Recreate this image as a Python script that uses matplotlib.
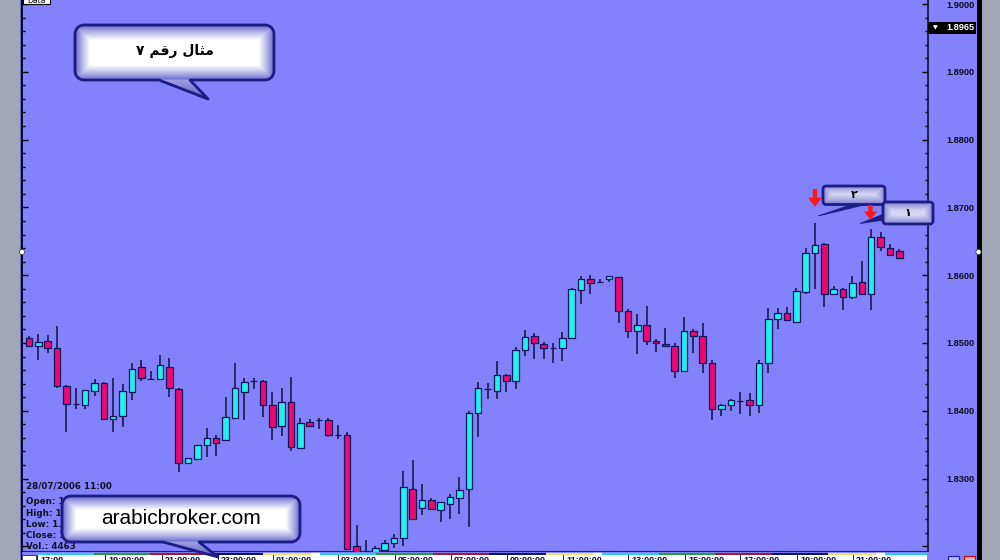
import numpy as np
import matplotlib
matplotlib.use("Agg")
import matplotlib.pyplot as plt
from matplotlib.patches import Rectangle, Polygon, Circle
from matplotlib.ticker import MultipleLocator, FuncFormatter

# ---------------- data (hourly GBP/USD-like candles) ----------------
opens = [1.8508, 1.8496, 1.8503, 1.8493, 1.8437, 1.8410, 1.8408, 1.8429, 1.8441, 1.8388,
         1.8393, 1.8428, 1.8464, 1.8447, 1.8447, 1.8465, 1.8432, 1.8323, 1.8329, 1.8349,
         1.8360, 1.8357, 1.8390, 1.8428, 1.8444, 1.8444, 1.8408, 1.8377, 1.8413, 1.8345,
         1.8383, 1.8387, 1.8386, 1.8364, 1.8364, 1.8201, 1.8193, 1.8191, 1.8195, 1.8205,
         1.8212, 1.8284, 1.8256, 1.8269, 1.8254, 1.8262, 1.8271, 1.8284, 1.8397, 1.8432,
         1.8429, 1.8453, 1.8444, 1.8489, 1.8510, 1.8499, 1.8492, 1.8492, 1.8507, 1.8578,
         1.8594, 1.8590, 1.8595, 1.8597, 1.8547, 1.8518, 1.8526, 1.8503, 1.8499, 1.8496,
         1.8459, 1.8517, 1.8511, 1.8471, 1.8402, 1.8408, 1.8415, 1.8416, 1.8408, 1.8470,
         1.8535, 1.8544, 1.8531, 1.8575, 1.8633, 1.8646, 1.8573, 1.8580, 1.8568, 1.8590,
         1.8573, 1.8656, 1.8640, 1.8635]
highs = [1.8511, 1.8513, 1.8512, 1.8525, 1.8438, 1.8434, 1.8431, 1.8447, 1.8442, 1.8449,
         1.8439, 1.8471, 1.8475, 1.8459, 1.8482, 1.8478, 1.8433, 1.8330, 1.8350, 1.8374,
         1.8364, 1.8420, 1.8471, 1.8448, 1.8449, 1.8445, 1.8427, 1.8433, 1.8450, 1.8390,
         1.8388, 1.8389, 1.8389, 1.8379, 1.8368, 1.8232, 1.8210, 1.8201, 1.8210, 1.8218,
         1.8311, 1.8328, 1.8292, 1.8271, 1.8265, 1.8278, 1.8303, 1.8399, 1.8443, 1.8441,
         1.8473, 1.8455, 1.8494, 1.8519, 1.8515, 1.8501, 1.8500, 1.8516, 1.8581, 1.8599,
         1.8600, 1.8594, 1.8599, 1.8598, 1.8550, 1.8543, 1.8555, 1.8506, 1.8522, 1.8500,
         1.8539, 1.8520, 1.8529, 1.8475, 1.8410, 1.8418, 1.8428, 1.8426, 1.8475, 1.8551,
         1.8551, 1.8553, 1.8581, 1.8640, 1.8677, 1.8647, 1.8584, 1.8581, 1.8599, 1.8621,
         1.8668, 1.8663, 1.8646, 1.8638]
lows = [1.8495, 1.8475, 1.8485, 1.8433, 1.8369, 1.8402, 1.8402, 1.8422, 1.8387, 1.8369,
        1.8376, 1.8416, 1.8444, 1.8445, 1.8446, 1.8420, 1.8310, 1.8321, 1.8327, 1.8332,
        1.8333, 1.8356, 1.8388, 1.8387, 1.8432, 1.8391, 1.8357, 1.8363, 1.8341, 1.8344,
        1.8377, 1.8373, 1.8362, 1.8358, 1.8195, 1.8190, 1.8190, 1.8190, 1.8190, 1.8197,
        1.8200, 1.8240, 1.8246, 1.8253, 1.8236, 1.8241, 1.8248, 1.8229, 1.8362, 1.8417,
        1.8417, 1.8428, 1.8432, 1.8481, 1.8477, 1.8477, 1.8471, 1.8474, 1.8506, 1.8557,
        1.8572, 1.8588, 1.8590, 1.8529, 1.8507, 1.8484, 1.8497, 1.8486, 1.8494, 1.8448,
        1.8458, 1.8485, 1.8456, 1.8387, 1.8392, 1.8399, 1.8396, 1.8392, 1.8397, 1.8456,
        1.8520, 1.8533, 1.8530, 1.8573, 1.8579, 1.8553, 1.8571, 1.8548, 1.8565, 1.8571,
        1.8549, 1.8636, 1.8629, 1.8625]
closes = [1.8496, 1.8502, 1.8492, 1.8436, 1.8410, 1.8410, 1.8430, 1.8441, 1.8388, 1.8393,
          1.8429, 1.8462, 1.8449, 1.8447, 1.8467, 1.8433, 1.8323, 1.8330, 1.8349, 1.8360,
          1.8353, 1.8391, 1.8433, 1.8443, 1.8444, 1.8408, 1.8376, 1.8413, 1.8346, 1.8382,
          1.8378, 1.8387, 1.8365, 1.8364, 1.8196, 1.8192, 1.8193, 1.8197, 1.8205, 1.8213,
          1.8287, 1.8241, 1.8269, 1.8255, 1.8265, 1.8273, 1.8283, 1.8397, 1.8433, 1.8432,
          1.8453, 1.8444, 1.8489, 1.8509, 1.8500, 1.8492, 1.8492, 1.8508, 1.8580, 1.8594,
          1.8589, 1.8590, 1.8599, 1.8547, 1.8518, 1.8526, 1.8503, 1.8500, 1.8495, 1.8459,
          1.8518, 1.8510, 1.8470, 1.8402, 1.8408, 1.8416, 1.8415, 1.8408, 1.8471, 1.8536,
          1.8544, 1.8534, 1.8577, 1.8633, 1.8645, 1.8573, 1.8580, 1.8568, 1.8589, 1.8572,
          1.8657, 1.8641, 1.8630, 1.8626]

price_min, price_max = 1.819174, 1.900590
price_step_major = 0.01
price_step_minor = 0.002
label_floor = 1.825          # lowest price that gets a printed label
current_price = 1.8965

title_text = "\u0667 \uFEE2\uFED7\uFEAD \uFEDD\uFE8E\uFE9C\uFEE3"   # مثال رقم ٧ (shaped, visual order)
site_text = "arabicbroker.com"
label_2 = "\u0662"
label_1 = "\u0661"
info_lines = ["Open: 1.8286", "High: 1.8311", "Low: 1.8200", "Close: 1.8287", "Vol.: 4463"]
info_date = "28/07/2006 11:00"
time_labels = ["17:00", "19:00:00", "21:00:00", "23:00:00", "01:00:00", "03:00:00",
               "05:00:00", "07:00:00", "09:00:00", "11:00:00", "13:00:00", "15:00:00",
               "17:00:00", "19:00:00", "21:00:00"]

# ---------------- style ----------------
BG = "#8282fc"
CYAN = "#22f0ee"
PINK = "#ee0872"
EDGE = "#14145a"
WICK = "#18184e"
NAVY = "#1c1c86"
GRAY = "#a3a6b6"

W, H = 1000, 560
fig = plt.figure(figsize=(10, 5.6), dpi=100, facecolor=BG)

# main price axes (pixel geometry: x 22..928, y 0..552)
ax = fig.add_axes([22 / W, (H - 552) / H, (928 - 22) / W, 552 / H])
ax.set_facecolor(BG)
n = len(opens)
x = np.arange(n)
o = np.array(opens); c = np.array(closes); hi = np.array(highs); lo = np.array(lows)
cols = np.where(c > o, CYAN, np.where(c < o, PINK, "none"))
ax.vlines(x, lo, hi, color=WICK, lw=1.2, zorder=2)
ax.bar(x, np.abs(c - o), bottom=np.minimum(o, c), width=0.7, color=cols,
       edgecolor=EDGE, linewidth=0.9, zorder=3)
ax.set_xlim(-0.748, 96.07)
ax.set_ylim(price_min, price_max)

ax.yaxis.set_major_locator(MultipleLocator(price_step_major))
ax.yaxis.set_minor_locator(MultipleLocator(price_step_minor))
ax.yaxis.set_major_formatter(FuncFormatter(lambda v, p: f"{v:.4f}" if v > label_floor else ""))
ax.tick_params(axis="y", which="both", direction="in", left=True, right=True,
               labelleft=False, labelright=True, colors="black")
ax.tick_params(axis="y", which="major", length=4.5, width=1.0, pad=13.5)
ax.tick_params(axis="y", which="minor", length=2.5, width=1.0)
for lab in ax.get_yticklabels():
    lab.set_fontfamily("Liberation Sans")
    lab.set_fontweight("bold")
    lab.set_fontsize(6.6)
    lab.set_color("#0a0a20")
ax.set_xticks([])
ax.spines["top"].set_visible(False)
ax.spines["left"].set_color("black"); ax.spines["left"].set_linewidth(1.2)
ax.spines["right"].set_color("#101030"); ax.spines["right"].set_linewidth(1.2)
ax.spines["bottom"].set_color(NAVY); ax.spines["bottom"].set_linewidth(1.5)

# current price marker on axis
yt = ax.get_yaxis_transform()
ax.add_patch(Rectangle((1.0, current_price - 0.00088), 0.0535, 0.00177, transform=yt,
                       facecolor="black", edgecolor="none", clip_on=False, zorder=5))
ax.text(1.0055, current_price, "\u25BC", transform=yt, color="white", fontsize=4.5,
        ha="left", va="center", clip_on=False, zorder=6)
ax.text(1.0518, current_price, f"{current_price:.4f}", transform=yt, color="white",
        fontsize=6.6, fontfamily="Liberation Sans", fontweight="bold",
        ha="right", va="center", clip_on=False, zorder=6)

# ---------------- overlay in pixel coordinates ----------------
ov = fig.add_axes([0, 0, 1, 1], zorder=10)
ov.set_xlim(0, W); ov.set_ylim(H, 0)
ov.axis("off")
ov.patch.set_alpha(0)

# side frames
ov.add_patch(Rectangle((0, 0), 20, H, facecolor=GRAY, edgecolor="none"))
ov.plot([20.5, 20.5], [0, H], color="black", lw=1.0)
ov.add_patch(Rectangle((977, 0), 4.5, H, facecolor="black", edgecolor="none"))
ov.add_patch(Rectangle((981.5, 0), 18.5, H, facecolor=GRAY, edgecolor="none"))
ov.add_patch(Circle((22, 252), 2.6, facecolor="white", edgecolor="#303030", lw=0.5, zorder=5))
ov.add_patch(Circle((978.5, 252), 2.6, facecolor="white", edgecolor="#303030", lw=0.5, zorder=5))

# "Data" tab at top-left
ov.add_patch(Rectangle((23, -6), 27, 10, facecolor="white", edgecolor="black", lw=0.8))
ov.text(36, 0.5, "Data", fontsize=5.5, ha="center", va="center", color="black", clip_on=True)

# bottom time strip
ov.add_patch(Rectangle((22, 552), 955, 8, facecolor=BG, edgecolor="none", zorder=1))
seg_cols = ["#2ad0d8", "#2a9a40", "#a01c30", "#141466", "#e8e070"]
sx = 37.0
k = 0
while sx < 927:
    ex = min(sx + 56.5, 927)
    ov.plot([sx, ex], [553.6, 553.6], color=seg_cols[k % 5], lw=1.6, solid_capstyle="butt", zorder=2)
    if k % 5 == 4:
        ov.plot([ex - 9, ex], [553.6, 553.6], color="white", lw=1.6, solid_capstyle="butt", zorder=3)
    sx = ex
    k += 1
ov.add_patch(Rectangle((22, 555), 905, 6, facecolor="white", edgecolor="none", zorder=2))
ov.add_patch(Rectangle((22, 555), 14, 6, facecolor="white", edgecolor="#202020", lw=0.6, zorder=3))
seps = [37, 105, 162, 218, 273, 338, 395, 451, 507, 563, 628, 685, 740, 797, 853]
for i, sxp in enumerate(seps):
    ov.plot([sxp, sxp], [555, 560], color="#202040", lw=0.7, zorder=3)
    ov.text(sxp + 3, 556.2, time_labels[i], fontsize=6.5, fontfamily="Liberation Sans",
            fontweight="bold", ha="left", va="top", color="#101030", zorder=3, clip_on=True)
ov.add_patch(Rectangle((948, 555.5), 11, 6, facecolor="#b8b8ff", edgecolor="#2020a0", lw=0.9, zorder=3))
ov.add_patch(Rectangle((964, 555.5), 11, 6, facecolor="#ffb0b0", edgecolor="#c01010", lw=0.9, zorder=3))

# info text at bottom-left
ov.text(26, 486, info_date, fontsize=6.3, fontfamily="DejaVu Sans", fontweight="bold",
        color="#101020", ha="left", va="center", zorder=3)
for i, t in enumerate(info_lines):
    ov.text(26, 502 + i * 11.2, t, fontsize=6.3, fontfamily="DejaVu Sans", fontweight="bold",
            color="#101020", ha="left", va="center", zorder=3)


def bubble_verts(x0, y0, x1, y1, r, tail=None, npts=10):
    pts = []

    def arc(cx, cy, a0, a1):
        t = np.radians(np.linspace(a0, a1, npts))
        return list(zip(cx + r * np.cos(t), cy + r * np.sin(t)))
    pts += arc(x0 + r, y0 + r, 180, 270)
    pts += arc(x1 - r, y0 + r, 270, 360)
    pts += arc(x1 - r, y1 - r, 0, 90)
    if tail is not None:
        bx0, bx1, tx, ty = tail
        pts += [(bx1, y1), (tx, ty), (bx0, y1)]
    pts += arc(x0 + r, y1 - r, 90, 180)
    return np.array(pts)


def hex2rgb(h):
    h = h.lstrip("#")
    return np.array([int(h[i:i + 2], 16) / 255 for i in (0, 2, 4)])


def bubble(x0, y0, x1, y1, r, tail, edge_col, center_col, falloff, smax, lw, z):
    verts = bubble_verts(x0, y0, x1, y1, r, tail)
    poly = Polygon(verts, closed=True, facecolor="none", edgecolor=NAVY, lw=lw, zorder=z + 1,
                   joinstyle="round")
    ov.add_patch(poly)
    xmin, ymin = verts.min(axis=0); xmax, ymax = verts.max(axis=0)
    gw = int(xmax - xmin) + 2; gh = int(ymax - ymin) + 2
    gx, gy = np.meshgrid(np.linspace(xmin, xmax, gw), np.linspace(ymin, ymax, gh))
    d = np.minimum.reduce([gx - x0, x1 - gx, gy - y0, y1 - gy])
    s = np.clip(d / falloff, 0, 1) ** 0.8 * smax
    if tail is not None:
        ty = tail[3]
        outside = gy > y1
        st = 0.4 * (1 - np.clip((gy - y1) / max(ty - y1, 1), 0, 1))
        s = np.where(outside, st, s)
    e = hex2rgb(edge_col); cc = hex2rgb(center_col)
    rgb = e[None, None, :] + (cc - e)[None, None, :] * s[..., None]
    im = ov.imshow(rgb, extent=(xmin, xmax, ymax, ymin), origin="upper",
                   interpolation="bilinear", aspect="auto", zorder=z)
    im.set_clip_path(poly)


# title callout
bubble(75, 25, 274, 80, 9, (159, 190, 208, 99), "#6060cc", "#ffffff", 15, 1.0, 2.0, 20)
ov.text(175, 51, title_text, fontsize=10, fontfamily="DejaVu Sans", fontweight="bold",
        color="black", ha="center", va="center", zorder=23)

# site callout
bubble(62, 496, 300, 542, 9, (163, 199, 218, 557), "#6060cc", "#ffffff", 14, 1.0, 2.0, 20)
ov.text(181, 518, site_text, fontsize=15, fontfamily="Liberation Sans",
        color="black", ha="center", va="center", zorder=23)

# numbered labels near the highs
ov.add_patch(Polygon([(818, 216), (852, 204.5), (866, 204.5)], closed=True,
                     facecolor=NAVY, edgecolor=NAVY, lw=0.6, zorder=19))
ov.add_patch(Polygon([(860, 223.5), (884, 214), (884, 220)], closed=True,
                     facecolor=NAVY, edgecolor=NAVY, lw=0.6, zorder=19))
bubble(823, 186, 885, 204.5, 3, None, "#7c7cd0", "#e6e6fa", 9, 0.85, 2.0, 20)
bubble(883, 202, 933, 224, 3, None, "#7c7cd0", "#e6e6fa", 9, 0.85, 2.0, 24)
ov.text(854, 195, label_2, fontsize=8, fontfamily="DejaVu Sans", fontweight="bold",
        color="black", ha="center", va="center", zorder=23)
ov.text(908, 213, label_1, fontsize=8, fontfamily="DejaVu Sans", fontweight="bold",
        color="black", ha="center", va="center", zorder=27)


def down_arrow(cx, ytop, shaft_h, head_h, shaft_w, head_w):
    pts = [(cx - shaft_w / 2, ytop), (cx + shaft_w / 2, ytop), (cx + shaft_w / 2, ytop + shaft_h),
           (cx + head_w / 2, ytop + shaft_h), (cx, ytop + shaft_h + head_h),
           (cx - head_w / 2, ytop + shaft_h), (cx - shaft_w / 2, ytop + shaft_h)]
    ov.add_patch(Polygon(pts, closed=True, facecolor="#ff1a1a", edgecolor="none", zorder=30))


down_arrow(815, 189, 8.5, 9.5, 4.5, 14)
down_arrow(870.5, 205, 6.5, 8.5, 4.5, 13)

ov.set_xlim(0, W); ov.set_ylim(H, 0)
fig.savefig("out.png", dpi=100, facecolor=BG)
